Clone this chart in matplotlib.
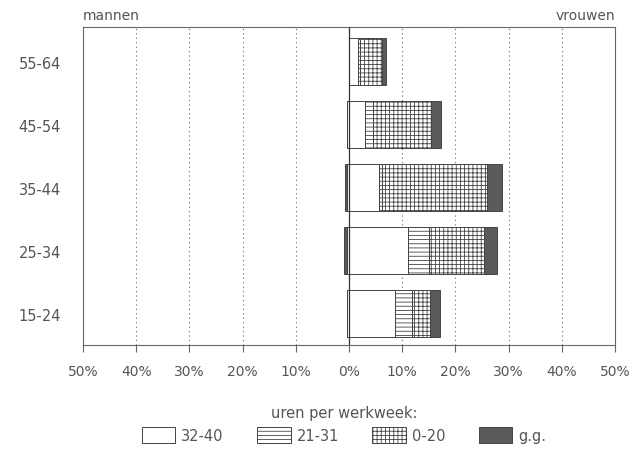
import matplotlib
matplotlib.use("Agg")
import matplotlib.pyplot as plt
import numpy as np

ages = ["15-24", "25-34", "35-44", "45-54", "55-64"]
groups = ["32-40", "21-31", "0-20", "g.g."]

# percentages, men drawn to the left
men_3240 = [0.4, 0.3, 0.3, 0.4, 0.1]
men_2131 = [0, 0, 0, 0, 0]
men_020 = [0, 0, 0, 0, 0]
men_gg = [0.0, 0.6, 0.4, 0.0, 0.0]

women_3240 = [8.6, 11.0, 5.6, 3.0, 1.6]
women_2131 = [3.2, 4.0, 0.6, 1.5, 0.4]
women_020 = [3.4, 10.3, 19.8, 11.0, 4.2]
women_gg = [1.9, 2.5, 2.8, 1.7, 0.8]

txt = "#555555"
plt.rcParams["hatch.linewidth"] = 0.6
plt.rcParams["hatch.color"] = "#444444"
plt.rcParams["font.family"] = "DejaVu Sans"

styles = [dict(facecolor="white", hatch=None),
          dict(facecolor="white", hatch="----"),
          dict(facecolor="white", hatch="++++"),
          dict(facecolor="#5a5a5a", hatch=None)]

fig = plt.figure(figsize=(6.44, 4.52), dpi=100)
ax = fig.add_axes([0.129, 0.2345, 0.826, 0.7035])

y = np.arange(len(ages))
men = [men_3240, men_2131, men_020, men_gg]
women = [women_3240, women_2131, women_020, women_gg]

left = np.zeros(len(ages))
for vals, st in zip(men, styles):
    v = -np.array(vals)
    ax.barh(y, v, left=left, height=0.75, edgecolor="#444444", linewidth=0.7, **st)
    left += v
left = np.zeros(len(ages))
for vals, st in zip(women, styles):
    v = np.array(vals)
    ax.barh(y, v, left=left, height=0.75, edgecolor="#444444", linewidth=0.7, **st)
    left += v

ax.set_xlim(-50, 50)
ax.set_ylim(-0.5, 4.55)
ticks = np.arange(-50, 51, 10)
ax.set_xticks(ticks)
ax.set_xticklabels([f"{abs(t)}%" for t in ticks], color=txt, fontsize=10)
ax.set_yticks(y)
ax.set_yticklabels(ages, color=txt, fontsize=10.5)
ax.tick_params(axis="y", length=0, pad=16)
ax.tick_params(axis="x", length=5, width=0.8, colors="#666666", labelcolor=txt, pad=9)
for t in ticks:
    if t not in (-50, 0, 50):
        ax.axvline(t, color="#666666", linestyle=(0, (1, 3)), linewidth=0.8, zorder=0)
ax.axvline(0, color="#333333", linewidth=0.9, zorder=5)
for s in ax.spines.values():
    s.set_color("#666666")
    s.set_linewidth(0.8)

fig.text(0.129, 0.965, "mannen", color=txt, fontsize=10, ha="left", va="center")
fig.text(0.955, 0.965, "vrouwen", color=txt, fontsize=10, ha="right", va="center")

handles = [plt.Rectangle((0, 0), 1, 1, edgecolor="#444444", linewidth=0.7, **st) for st in styles]
leg = fig.legend(handles, groups, loc="center", bbox_to_anchor=(0.534, 0.06), ncol=4,
                 frameon=False, fontsize=10.5, title="uren per werkweek:",
                 title_fontsize=10.5, handlelength=2.3, handleheight=1.3,
                 columnspacing=2.3, handletextpad=0.4)
leg.get_title().set_color(txt)
for t in leg.get_texts():
    t.set_color(txt)

fig.savefig("out.png", dpi=100)
